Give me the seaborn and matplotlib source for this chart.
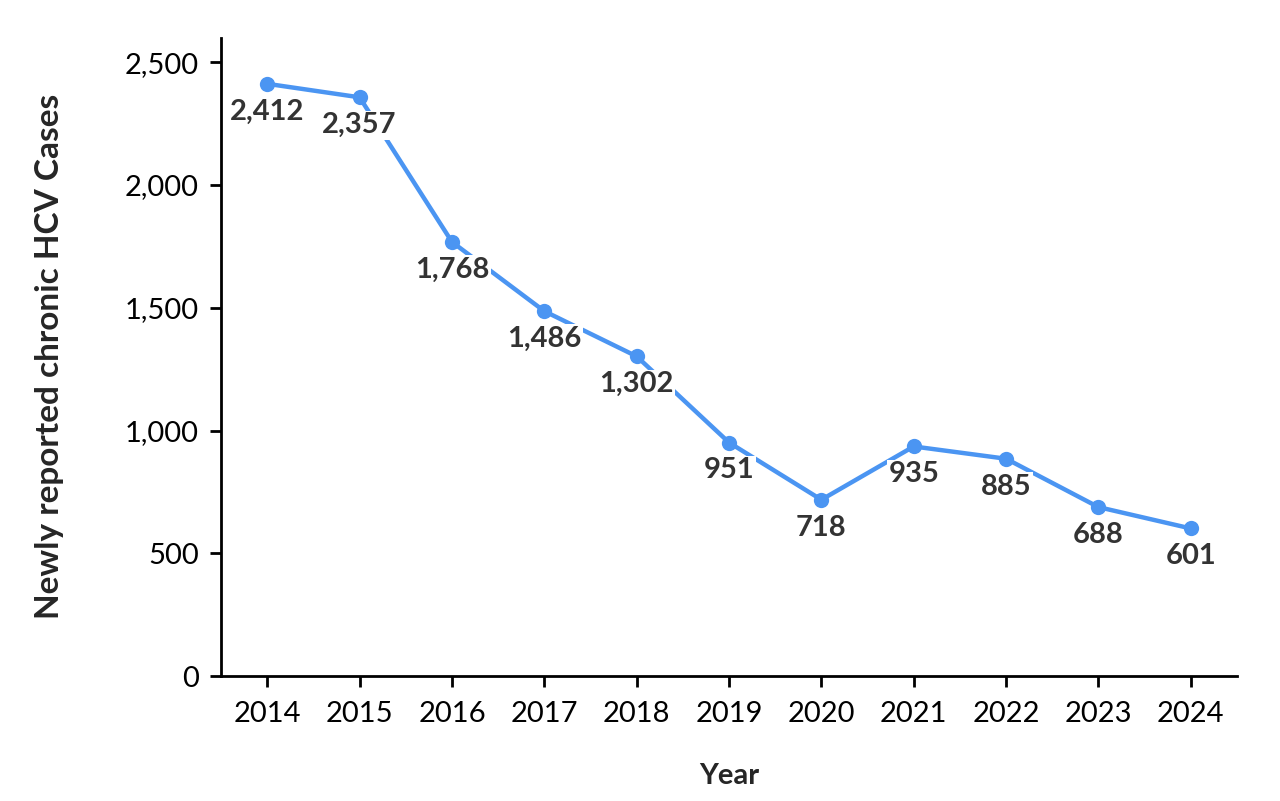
import matplotlib
matplotlib.use("Agg")
import matplotlib.pyplot as plt
import seaborn as sns
import pandas as pd

# Данные графика
years = [2014, 2015, 2016, 2017, 2018, 2019, 2020, 2021, 2022, 2023, 2024]
cases = [2412, 2357, 1768, 1486, 1302, 951, 718, 935, 885, 688, 601]
y_ticks = [0, 500, 1000, 1500, 2000, 2500]
y_tick_labels = ["0", "500", "1,000", "1,500", "2,000", "2,500"]

line_color = "#4b95f2"
label_color = "#333333"

sns.set_theme(style="ticks")
plt.rcParams["font.family"] = ["Lato", "DejaVu Sans"]

df = pd.DataFrame({"Year": years, "Cases": cases})

fig = plt.figure(figsize=(12.8, 8.01), dpi=100)
ax = fig.add_axes([0.1727, 0.156, 0.7937, 0.797])

sns.lineplot(data=df, x="Year", y="Cases", ax=ax, color=line_color,
             linewidth=3.2, marker="o", markersize=11, markeredgewidth=0,
             zorder=2)

# Подписи значений под точками
for x, y in zip(years, cases):
    ax.annotate(f"{y:,}", (x, y), xytext=(0, -20), textcoords="offset points",
                ha="center", va="center", fontsize=21, fontweight="bold",
                color=label_color, zorder=3,
                bbox=dict(boxstyle="square,pad=0.05", fc="white", ec="none"))

ax.set_xlim(2013.5, 2024.5)
ax.set_ylim(0, 2600)
ax.set_xticks(years)
ax.set_xticklabels([str(y) for y in years])
ax.set_yticks(y_ticks)
ax.set_yticklabels(y_tick_labels)
ax.tick_params(axis="both", labelsize=21, length=8, width=2, colors="black",
               pad=8)
ax.tick_params(axis="x", pad=10)

for side in ["top", "right"]:
    ax.spines[side].set_visible(False)
for side in ["left", "bottom"]:
    ax.spines[side].set_linewidth(2)
    ax.spines[side].set_color("black")

ax.set_xlabel("Year", fontsize=21, fontweight="bold", labelpad=26)
ax.set_ylabel("Newly reported chronic HCV Cases", fontsize=24,
              fontweight="bold", labelpad=44)

fig.savefig("out.png", dpi=100)
